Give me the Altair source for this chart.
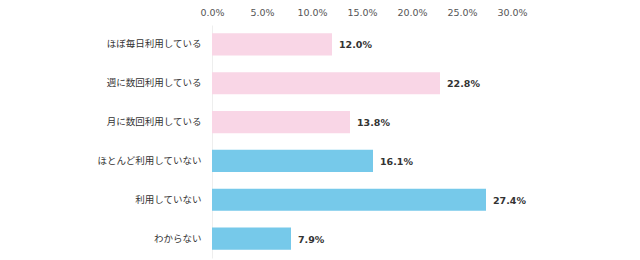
import altair as alt
import pandas as pd

categories = [
    "ほぼ毎日利用している",
    "週に数回利用している",
    "月に数回利用している",
    "ほとんど利用していない",
    "利用していない",
    "わからない",
]
values = [12.0, 22.8, 13.8, 16.1, 27.4, 7.9]
groups = ["use", "use", "use", "nonuse", "nonuse", "nonuse"]
tick_values = [0, 5, 10, 15, 20, 25, 30]

df = pd.DataFrame({"category": categories, "value": values, "group": groups})
df["label"] = df["value"].map(lambda v: f"{v:.1f}%")

cjk_font = "Noto Sans CJK JP"
num_font = "DejaVu Sans"

y_enc = alt.Y(
    "category:N",
    sort=categories,
    scale=alt.Scale(paddingInner=0.43, paddingOuter=0.215),
    axis=alt.Axis(
        title=None,
        ticks=False,
        domain=True,
        domainColor="#eeeeee",
        domainWidth=1,
        labelFont=cjk_font,
        labelFontSize=9.5,
        labelColor="#333333",
        labelPadding=11,
    ),
)

x_enc = alt.X(
    "value:Q",
    scale=alt.Scale(domain=[0, 30], nice=False),
    axis=alt.Axis(
        orient="top",
        title=None,
        values=tick_values,
        labelExpr="format(datum.value, '.1f') + '%'",
        labelFlush=False,
        ticks=False,
        domain=False,
        grid=False,
        labelFont=num_font,
        labelFontSize=9.5,
        labelColor="#555555",
        labelPadding=8,
    ),
)

bars = alt.Chart(df).mark_bar().encode(
    x=x_enc,
    y=y_enc,
    color=alt.Color(
        "group:N",
        scale=alt.Scale(domain=["use", "nonuse"], range=["#f9d6e6", "#76c9ea"]),
        legend=None,
    ),
)

text = alt.Chart(df).mark_text(
    align="left", baseline="middle", dx=7, dy=1,
    font=num_font, fontSize=9.5, fontWeight="bold", color="#333333",
).encode(
    x="value:Q",
    y=alt.Y("category:N", sort=categories),
    text="label:N",
)

chart = (
    alt.layer(bars, text)
    .properties(
        width=300,
        height=233,
        padding={"left": 212, "top": 25, "right": 128, "bottom": 2},
        autosize=alt.AutoSizeParams(type="none"),
        background="white",
    )
    .configure_view(stroke=None)
)

chart.save("out.html", embed_options={"renderer": "svg", "actions": False})
